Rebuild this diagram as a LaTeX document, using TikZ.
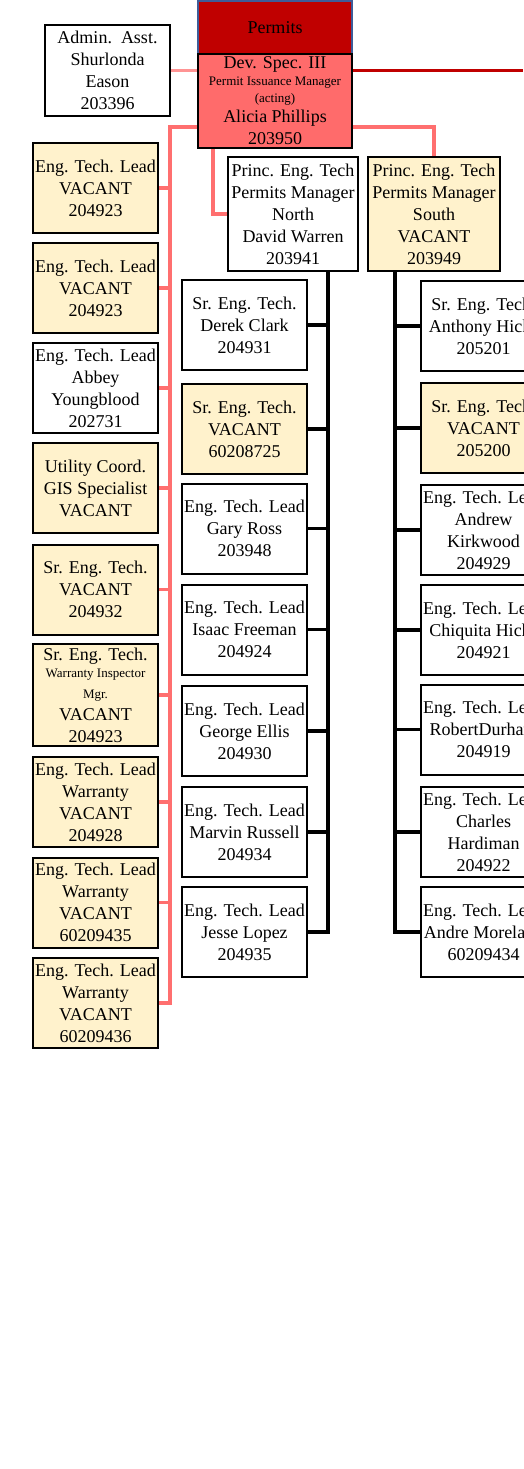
\documentclass[tikz,border=0pt]{standalone}
\usepackage{fontspec}
\setmainfont{Liberation Serif}
\newcommand\fsz{\fontsize{18}{22}\selectfont}
\newcommand\sml{\fontsize{13}{15}\selectfont}
\newcommand\st{\rule[-2pt]{0pt}{16pt}}
\newcommand\bx[1]{\st#1\st}
\definecolor{hdrred}{HTML}{C00000}
\definecolor{hdrblue}{HTML}{3E5C99}
\definecolor{devpink}{HTML}{FF6B6B}
\definecolor{cream}{HTML}{FFF2CC}
\definecolor{pinkline}{HTML}{FF6F6F}
\definecolor{pinklight}{HTML}{FF9494}
\tikzset{
  orgbox/.style={draw=black, line width=2pt, minimum width=125pt, minimum height=90pt,
    inner sep=0pt, align=center, font=\fsz},
  whitebox/.style={orgbox, fill=white},
  vacbox/.style={orgbox, fill=cream},
  pk/.style={draw=pinkline, line width=3.5pt},
  pkl/.style={draw=pinklight, line width=2.5pt},
  blk/.style={draw=black, line width=3.5pt},
  rd/.style={draw=hdrred, line width=3pt},
}
\begin{document}
\begin{tikzpicture}[x=1pt,y=-1pt]
\useasboundingbox (0,0) rectangle (523,1469);
% header
\node[draw=hdrblue, fill=hdrred, line width=2pt, minimum width=154pt, minimum height=53pt,
  inner sep=0pt, font=\fsz] (permits) at (275,27.5) {Permits};
\node[orgbox, fill=devpink, minimum width=154pt, minimum height=94pt] (dev) at (275,101)
  {\st Dev. Spec. III\\[-5.5pt]{\sml Permit Issuance Manager}\\[-5.5pt]{\sml (acting)}\\[-1pt]Alicia Phillips\\203950\st};
\node[whitebox, minimum height=91pt] (admin) at (107.5,70.5)
  {\bx{Admin.\ \ Asst.\\Shurlonda\\Eason\\203396}};
% left column
\node[vacbox] (l1) at (95.5,188) {\bx{Eng. Tech. Lead\\VACANT\\204923}};
\node[vacbox] (l2) at (95.5,288) {\bx{Eng. Tech. Lead\\VACANT\\204923}};
\node[whitebox] (l3) at (95.5,388) {\bx{Eng. Tech. Lead\\Abbey\\Youngblood\\202731}};
\node[vacbox] (l4) at (95.5,488) {\bx{Utility Coord.\\GIS Specialist\\VACANT}};
\node[vacbox] (l5) at (95.5,589.5) {\bx{Sr. Eng. Tech.\\VACANT\\204932}};
\node[vacbox, minimum height=102pt] (l6) at (95.5,695)
  {\st Sr. Eng. Tech.\\[-4.5pt]{\sml Warranty Inspector}\\[-1pt]{\sml Mgr.}\\[-0.5pt]VACANT\\204923\st};
\node[vacbox] (l7) at (95.5,802) {\bx{Eng. Tech. Lead\\Warranty\\VACANT\\204928}};
\node[vacbox] (l8) at (95.5,902.5) {\bx{Eng. Tech. Lead\\Warranty\\VACANT\\60209435}};
\node[vacbox] (l9) at (95.5,1003) {\bx{Eng. Tech. Lead\\Warranty\\VACANT\\60209436}};
% managers
\node[whitebox, minimum width=130pt, minimum height=114pt] (north) at (293,214)
  {\bx{Princ. Eng. Tech\\Permits Manager\\North\\David Warren\\203941}};
\node[vacbox, minimum width=132pt, minimum height=114pt] (south) at (434,214)
  {\bx{Princ. Eng. Tech\\Permits Manager\\South\\VACANT\\203949}};
% middle column
\node[whitebox] (m1) at (244.5,325) {\bx{Sr. Eng. Tech.\\Derek Clark\\204931}};
\node[vacbox] (m2) at (244.5,429) {\bx{Sr. Eng. Tech.\\VACANT\\60208725}};
\node[whitebox] (m3) at (244.5,528.5) {\bx{Eng. Tech. Lead\\Gary Ross\\203948}};
\node[whitebox] (m4) at (244.5,629.5) {\bx{Eng. Tech. Lead\\Isaac Freeman\\204924}};
\node[whitebox] (m5) at (244.5,731) {\bx{Eng. Tech. Lead\\George Ellis\\204930}};
\node[whitebox] (m6) at (244.5,832) {\bx{Eng. Tech. Lead\\Marvin Russell\\204934}};
\node[whitebox] (m7) at (244.5,932) {\bx{Eng. Tech. Lead\\Jesse Lopez\\204935}};
% right column
\node[whitebox] (r1) at (483.5,326) {\bx{Sr. Eng. Tech.\\Anthony Hicks\\205201}};
\node[vacbox] (r2) at (483.5,428) {\bx{Sr. Eng. Tech.\\VACANT\\205200}};
\node[whitebox] (r3) at (483.5,530) {\bx{Eng. Tech. Lead\\Andrew\\Kirkwood\\204929}};
\node[whitebox] (r4) at (483.5,630) {\bx{Eng. Tech. Lead\\Chiquita Hicks\\204921}};
\node[whitebox] (r5) at (483.5,729.5) {\bx{Eng. Tech. Lead\\RobertDurham\\204919}};
\node[whitebox] (r6) at (483.5,832) {\bx{Eng. Tech. Lead\\Charles\\Hardiman\\204922}};
\node[whitebox] (r7) at (483.5,932) {\bx{Eng. Tech. Lead\\Andre Moreland\\60209434}};
% bus coordinates
\coordinate (lbus) at (170,127);
\coordinate (dn) at (213,0);
\coordinate (nbus) at (328,0);
\coordinate (sbus) at (395,0);
\coordinate (redend) at (523,70.5);
% connectors
\draw[pkl] (admin.east) -- (admin.east -| dev.west);
\draw[rd] (dev.east |- redend) -- (redend);
\draw[pk] (dev.west |- lbus) -- (lbus) |- (l9.east);
\foreach \n in {l1,l2,l3,l4,l5,l6,l7,l8} \draw[pk] (\n.east) -- (\n.east -| lbus);
\draw[pk] (dev.east |- lbus) -| (south.north);
\draw[pk] (dev.south -| dn) |- (north.west);
\draw[blk] (north.south -| nbus) |- (m7.east);
\foreach \n in {m1,m2,m3,m4,m5,m6} \draw[blk] (\n.east) -- (\n.east -| nbus);
\draw[blk] (south.south -| sbus) |- (r7.west);
\foreach \n in {r1,r2,r3,r4,r5,r6} \draw[blk] (\n.west) -- (\n.west -| sbus);
\end{tikzpicture}
\end{document}
